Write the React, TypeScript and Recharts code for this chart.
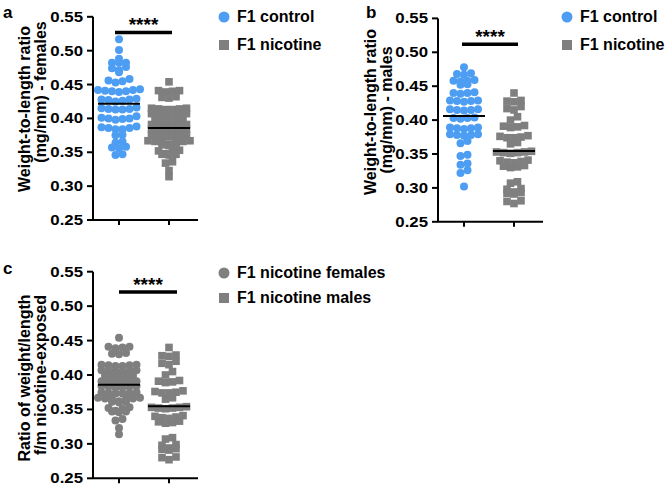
import React from "react";
import { ScatterChart, Scatter, XAxis, YAxis, ReferenceLine, Legend } from "recharts";

const FONT = '"Liberation Sans", Arial, sans-serif';
const BLUE = "#4d9ef2";
const GREY = "#7f7f7f";

// weight-to-length ratios (mg/mm)
const femaleControl = [
  0.517, 0.501, 0.488, 0.482, 0.482, 0.482, 0.476, 0.474, 0.471, 0.468,
  0.458, 0.456, 0.455, 0.453, 0.442, 0.441, 0.44, 0.439, 0.44, 0.442,
  0.443, 0.428, 0.427, 0.425, 0.426, 0.428, 0.429, 0.415, 0.414, 0.413,
  0.414, 0.416, 0.413, 0.401, 0.4, 0.399, 0.403, 0.4, 0.398, 0.387,
  0.386, 0.384, 0.386, 0.388, 0.384, 0.376, 0.375, 0.366, 0.364, 0.358,
  0.357, 0.356, 0.346, 0.347,
];
const femaleNicotine = [
  0.454, 0.441, 0.439, 0.44, 0.441, 0.432, 0.431, 0.43,
  0.415, 0.414, 0.413, 0.414, 0.415, 0.413,
  0.407, 0.406, 0.405, 0.406, 0.407, 0.405,
  0.399, 0.398, 0.397, 0.398, 0.399,
  0.391, 0.39, 0.389, 0.39, 0.391, 0.389,
  0.384, 0.383, 0.382, 0.383, 0.384, 0.382,
  0.375, 0.374, 0.373, 0.374, 0.375, 0.373,
  0.367, 0.366, 0.365, 0.366, 0.367, 0.365,
  0.361, 0.36, 0.362, 0.361, 0.352, 0.351, 0.353,
  0.347, 0.346, 0.348, 0.347, 0.336, 0.334, 0.323, 0.314,
];
const maleControl = [
  0.478, 0.469, 0.467, 0.468, 0.459, 0.458, 0.457, 0.458, 0.453, 0.452,
  0.441, 0.44, 0.439, 0.44, 0.429, 0.428, 0.427, 0.428, 0.429,
  0.416, 0.415, 0.414, 0.415, 0.416, 0.404, 0.403, 0.402, 0.403,
  0.389, 0.388, 0.387, 0.388, 0.389, 0.379, 0.378, 0.377, 0.378, 0.379,
  0.369, 0.366, 0.349, 0.347, 0.336, 0.334, 0.326, 0.322, 0.302,
];
const maleNicotine = [
  0.44, 0.429, 0.427, 0.428, 0.42, 0.417, 0.415, 0.405, 0.4,
  0.391, 0.389, 0.39, 0.392, 0.376, 0.374, 0.375, 0.374, 0.377,
  0.367, 0.365, 0.353, 0.352, 0.351, 0.352, 0.353, 0.354,
  0.34, 0.338, 0.337, 0.339, 0.341, 0.332, 0.33, 0.331, 0.333,
  0.309, 0.307, 0.299, 0.298, 0.293, 0.291, 0.292, 0.294,
  0.281, 0.28, 0.277,
];

const yTicks = [0.25, 0.3, 0.35, 0.4, 0.45, 0.5, 0.55];

const mean = (a: number[]) => a.reduce((s, v) => s + v, 0) / a.length;

// Prism-like column scatter: near-equal values share a row, spread out from the centre
function swarm(values: number[], pos: number, pxPerY: number, pxPerX: number, rowH = 3.5, step = 7) {
  const rows: number[][] = [];
  [...values].sort((a, b) => b - a).forEach((v) => {
    const row = rows[rows.length - 1];
    if (row && (row[0] - v) * pxPerY < rowH) row.push(v);
    else rows.push([v]);
  });
  const out: { x: number; y: number }[] = [];
  rows.forEach((row) => {
    const n = row.length;
    const slots = Array.from({ length: n }, (_, k) => (k - (n - 1) / 2) * step).sort(
      (a, b) => Math.abs(a) - Math.abs(b) || a - b
    );
    [...row].sort((a, b) => a - b).forEach((v, k) => out.push({ x: pos + slots[k] / pxPerX, y: v }));
  });
  return out;
}

const circle = (color: string) => (p: any) => <circle cx={p.cx} cy={p.cy} r={4} fill={color} />;
const square = (color: string) => (p: any) => (
  <rect x={p.cx - 3.8} y={p.cy - 3.8} width={7.6} height={7.6} fill={color} />
);
const meanBar = (p: any) => (
  <line x1={p.cx - 21} x2={p.cx + 21} y1={p.cy} y2={p.cy} stroke="#000" strokeWidth={2} />
);

const YTick = (p: any) => (
  <text
    transform={`translate(${p.x},${p.y}) scale(1.2,1)`}
    textAnchor="end"
    dominantBaseline="central"
    fontSize={14}
    fontWeight="bold"
    fontFamily={FONT}
    fill="#000"
  >
    {Number(p.payload.value).toFixed(2)}
  </text>
);

const AxisTitle = ({ lines }: { lines: { x: number; y: number; text: string }[] }) => (
  <g>
    {lines.map((l) => (
      <text
        key={l.text}
        transform={`translate(${l.x},${l.y}) rotate(-90)`}
        textAnchor="middle"
        fontSize={16}
        fontWeight="bold"
        fontFamily={FONT}
        fill="#000"
      >
        {l.text}
      </text>
    ))}
  </g>
);

type Group = { name: string; values: number[]; color: string; kind: "circle" | "square" };

function Panel(props: {
  left: number;
  top: number;
  width: number;
  height: number;
  marginTop: number;
  xHeight: number;
  pxPerY: number;
  groups: Group[];
  titles: { x: number; y: number; text: string }[];
  sig: { y: number; x1: number; x2: number };
  legendLeft: number;
  legendTop: number;
  legendGap: number;
}) {
  const { groups } = props;
  return (
    <div style={{ position: "absolute", left: props.left, top: props.top }}>
      <ScatterChart
        width={props.width}
        height={props.height}
        margin={{ top: props.marginTop, right: props.width - 198, bottom: 0, left: 0 }}
      >
        <XAxis
          type="number"
          dataKey="x"
          domain={[0.48, 2.58]}
          allowDataOverflow
          ticks={[1, 2]}
          tickFormatter={() => ""}
          tickSize={5}
          height={props.xHeight}
          axisLine={{ stroke: "#000", strokeWidth: 2 }}
          tickLine={{ stroke: "#000", strokeWidth: 2 }}
        />
        <YAxis
          type="number"
          dataKey="y"
          domain={[0.25, 0.55]}
          ticks={yTicks}
          allowDataOverflow
          width={93}
          tickSize={6}
          tickMargin={4}
          tick={<YTick />}
          axisLine={{ stroke: "#000", strokeWidth: 2 }}
          tickLine={{ stroke: "#000", strokeWidth: 2 }}
          label={<AxisTitle lines={props.titles} />}
        />
        <ReferenceLine
          segment={[
            { x: props.sig.x1, y: props.sig.y },
            { x: props.sig.x2, y: props.sig.y },
          ]}
          stroke="#000"
          strokeWidth={3.5}
          label={{
            value: "****",
            position: "top",
            offset: 1,
            fill: "#000",
            fontSize: 19,
            fontWeight: "bold",
            fontFamily: FONT,
          }}
        />
        {groups.map((g, i) => (
          <Scatter
            key={g.name}
            name={g.name}
            data={swarm(g.values, i + 1, props.pxPerY, 50)}
            shape={g.kind === "circle" ? circle(g.color) : square(g.color)}
            isAnimationActive={false}
          />
        ))}
        {groups.map((g, i) => (
          <Scatter
            key={g.name + "-mean"}
            data={[{ x: i + 1, y: mean(g.values) }]}
            shape={meanBar}
            legendType="none"
            isAnimationActive={false}
          />
        ))}
        <Legend
          verticalAlign="middle"
          align="center"
          layout="horizontal"
          wrapperStyle={{ left: props.legendLeft, top: props.legendTop, width: 200 }}
          content={() => (
            <div style={{ fontFamily: FONT, fontWeight: "bold", fontSize: 16, color: "#000" }}>
              {groups.map((g) => (
                <div
                  key={g.name}
                  style={{ display: "flex", alignItems: "center", height: props.legendGap }}
                >
                  <svg width={12} height={12} style={{ marginRight: 7 }}>
                    {g.kind === "circle" ? (
                      <circle cx={6} cy={6} r={5.5} fill={g.color} />
                    ) : (
                      <rect x={1} y={1} width={10} height={10} fill={g.color} />
                    )}
                  </svg>
                  <span>{g.name}</span>
                </div>
              ))}
            </div>
          )}
        />
      </ScatterChart>
    </div>
  );
}

const letterStyle: React.CSSProperties = {
  position: "absolute",
  fontFamily: FONT,
  fontWeight: "bold",
  fontSize: 17,
  color: "#000",
};

export default function App() {
  return (
    <div style={{ position: "absolute", left: 0, top: 0, width: 671, height: 492, background: "#fff" }}>
      <div style={{ ...letterStyle, left: 3, top: 3 }}>a</div>
      <div style={{ ...letterStyle, left: 366, top: 3 }}>b</div>
      <div style={{ ...letterStyle, left: 3, top: 259 }}>c</div>
      <Panel
        left={0}
        top={0}
        width={360}
        height={240}
        marginTop={16.8}
        xHeight={20}
        pxPerY={678}
        groups={[
          { name: "F1 control", values: femaleControl, color: BLUE, kind: "circle" },
          { name: "F1 nicotine", values: femaleNicotine, color: GREY, kind: "square" },
        ]}
        titles={[
          { x: 30, y: 109, text: "Weight-to-length ratio" },
          { x: 46, y: 92, text: "(mg/mm) - females" },
        ]}
        sig={{ y: 0.527, x1: 0.92, x2: 2.06 }}
        legendLeft={218}
        legendTop={3}
        legendGap={28}
      />
      <Panel
        left={345}
        top={0}
        width={326}
        height={240}
        marginTop={18.4}
        xHeight={18.2}
        pxPerY={678}
        groups={[
          { name: "F1 control", values: maleControl, color: BLUE, kind: "circle" },
          { name: "F1 nicotine", values: maleNicotine, color: GREY, kind: "square" },
        ]}
        titles={[
          { x: 30.5, y: 112, text: "Weight-to-length ratio" },
          { x: 46.5, y: 110, text: "(mg/mm) - males" },
        ]}
        sig={{ y: 0.512, x1: 0.96, x2: 2.08 }}
        legendLeft={216}
        legendTop={3}
        legendGap={28}
      />
      <Panel
        left={0}
        top={255}
        width={400}
        height={237}
        marginTop={16.7}
        xHeight={13.7}
        pxPerY={688}
        groups={[
          { name: "F1 nicotine females", values: femaleNicotine, color: GREY, kind: "circle" },
          { name: "F1 nicotine males", values: maleNicotine, color: GREY, kind: "square" },
        ]}
        titles={[
          { x: 30, y: 123, text: "Ratio of weight/length" },
          { x: 46, y: 120, text: "f/m nicotine-exposed" },
        ]}
        sig={{ y: 0.5205, x1: 1.0, x2: 2.16 }}
        legendLeft={218}
        legendTop={5.5}
        legendGap={25}
      />
    </div>
  );
}
